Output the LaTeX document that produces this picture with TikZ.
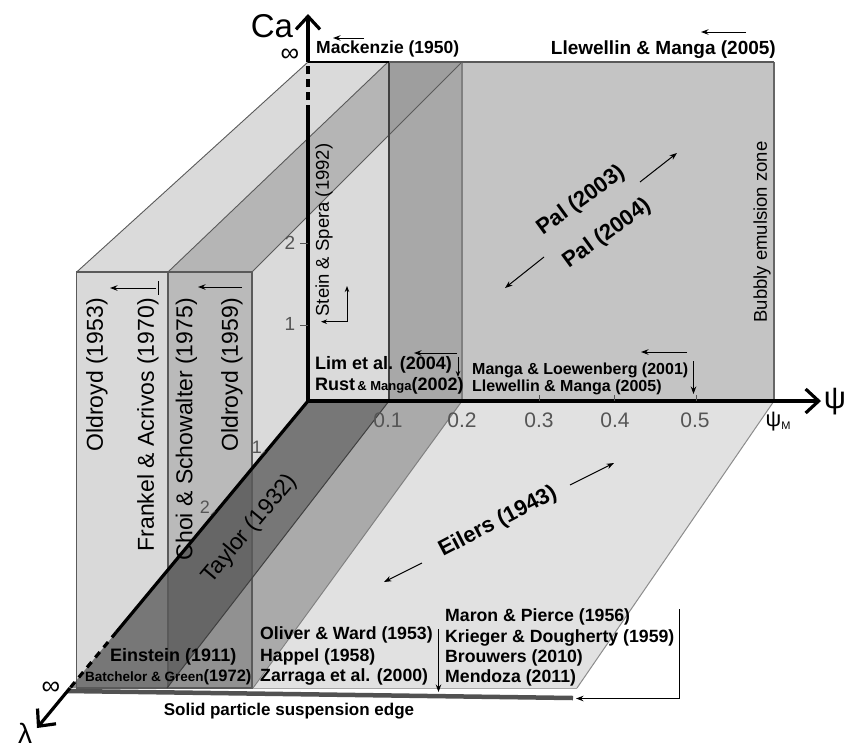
\documentclass[tikz,border=0pt]{standalone}
\usepackage{fontspec}
\setmainfont{Liberation Sans}
\usetikzlibrary{arrows.meta}
\newcommand{\fsz}[1]{\fontsize{#1}{#1}\selectfont}
\definecolor{cmed}{HTML}{C4C4C4}
\definecolor{clight}{HTML}{DADADA}
\definecolor{cstrip}{HTML}{A8A8A8}
\definecolor{ctoptwo}{HTML}{B5B5B5}
\definecolor{ctoptwod}{HTML}{9E9E9E}
\definecolor{cfloor}{HTML}{E1E1E1}
\definecolor{cslabone}{HTML}{D9D9D9}
\definecolor{cslabtwo}{HTML}{BABABA}
\definecolor{cline}{HTML}{5A5A5A}
\definecolor{ctick}{HTML}{555555}
\begin{document}
\begin{tikzpicture}[x=1pt,y=-1pt,
  bl/.style={font=\bfseries\fsz{17.7}, inner sep=0pt, anchor=west},
  vt/.style={font=\fsz{23}, inner sep=0pt, rotate=90, anchor=east},
  ar/.style={-{Stealth[length=7.5pt,width=5.5pt]}, line width=1pt},
  axisline/.style={line width=3.2pt},
  axisarrow/.style={line width=3.2pt, -{Straight Barb[length=13pt,width=24pt]}},
  ticklab/.style={font=\fsz{21}, text=ctick, inner sep=0pt},
  edgeln/.style={draw=cline, line width=1.1pt},
]
\useasboundingbox (0,0) rectangle (854,748);

% ---------- key points ----------
\coordinate (O) at (308,401);
\coordinate (CaInf) at (308,62);
\coordinate (CaDash) at (308,113);
\coordinate (CaTip) at (308,14);
\coordinate (PsiM) at (774,401);
\coordinate (PsiTip) at (821,401);
\coordinate (LamDash) at (116.4,632);
\coordinate (LamInf) at (70,688);
\coordinate (LamTip) at (37,728);

% ---------- faces ----------
\fill[cmed] (462,62) rectangle (774,401);
\fill[clight] (76.7,272) -- (308,62) -- (462,62) -- (462,401) -- (252,688) -- (76.7,688) -- cycle;
\fill[cstrip] (389,62) rectangle (462,401);
\fill[ctoptwo] (168,272) -- (252,272) -- (462,62) -- (388,62) -- cycle;
\begin{scope}
  \clip (389,62) rectangle (462,401);
  \fill[ctoptwod] (168,272) -- (252,272) -- (462,62) -- (388,62) -- cycle;
\end{scope}
\fill[cfloor] (462,401) -- (774,401) -- (577,688) -- (253,688) -- cycle;
\fill[cslabone] (76.7,272) rectangle (168,688);
\fill[cslabtwo] (168,272) rectangle (252,688);
\fill[black, fill opacity=0.45] (308,401) -- (389,401) -- (167,688) -- (70,688) -- cycle;
\fill[black, fill opacity=0.22] (389,401) -- (462,401) -- (253,688) -- (167,688) -- cycle;

% ---------- edges ----------
\draw[edgeln] (76.7,272) rectangle (252,688);
\draw[edgeln] (168,272) -- (168,688);
\draw[edgeln, line width=0.9pt] (76.7,272) -- (308,62);
\draw[edgeln, line width=0.9pt] (168,272) -- (388,62);
\draw[edgeln, line width=0.9pt] (252,272) -- (462,62);
\draw[draw=black!75, line width=1.5pt] (389,62) -- (389,401);
\draw[draw=black!50, line width=1.2pt] (462,62) -- (462,401);
\draw[draw=black!60, line width=1.8pt] (774,62) -- (774,401);
\draw[draw=black!65, line width=1.4pt] (389,62) -- (774,62);
\draw[draw=black, line width=1.6pt] (CaInf) -- (389,62);
\draw[draw=black!75, line width=1pt] (389,401) -- (167,688);
\draw[draw=black!50, line width=1pt] (462,401) -- (253,688);
\draw[draw=black!45, line width=1pt] (PsiM) -- (577,688);
\draw[draw=black!35, line width=0.8pt] (253,688) -- (577,688);
\draw[draw=black!68, line width=4.5pt] (67,691) -- (573,698);

% ---------- axes ----------
\draw[axisline] (O) -- (CaDash);
\draw[axisline, dash pattern=on 8pt off 5pt] (CaDash) -- (CaInf);
\draw[axisarrow] (CaInf) -- (CaTip);
\draw[axisarrow] (O) -- (PsiTip);
\draw[axisline] (O) -- (LamDash);
\draw[axisline, dash pattern=on 7pt off 6pt] (LamDash) -- (LamInf);
\draw[axisarrow] (LamInf) -- (LamTip);

\node[font=\fsz{33}, inner sep=0pt] (calab) at (272,26) {Ca};
\node[font=\fsz{31}, inner sep=0pt] (psilab) at (835,402) {ψ};
\node[font=\fsz{28}, inner sep=0pt] (lamlab) at (25,733) {λ};
\node[font=\fsz{26}, inner sep=0pt] (infca) at (290,55) {∞};
\node[font=\fsz{26}, inner sep=0pt] (inflam) at (51,688) {∞};
\node[inner sep=0pt] (psim) at (778,422) {{\fsz{22}ψ}{\fsz{11}\raisebox{-3pt}{M}}};

% ticks
\draw[ctick, line width=0.8pt] (300,325) -- (308,325);
\draw[ctick, line width=0.8pt] (300,243) -- (308,243);
\node[ticklab, font=\fsz{19}] (ca1) at (290,324) {1};
\node[ticklab, font=\fsz{19}] (ca2) at (290,243) {2};
\draw[ctick, line width=0.8pt] (539,395) -- (539,401);
\draw[ctick, line width=0.8pt] (614,395) -- (614,401);
\draw[ctick, line width=0.8pt] (696,395) -- (696,401);
\node[ticklab] (p1) at (388,420) {0.1};
\node[ticklab] (p2) at (462,420) {0.2};
\node[ticklab] (p3) at (539,420) {0.3};
\node[ticklab] (p4) at (615,420) {0.4};
\node[ticklab] (p5) at (695,420) {0.5};
\draw[ctick, line width=0.8pt] (261,455) -- (265,451);
\draw[ctick, line width=0.8pt] (211,515) -- (215,511);
\node[ticklab, font=\fsz{18}] (l1) at (257,447) {1};
\node[ticklab, font=\fsz{18}] (l2) at (205,507) {2};

% ---------- labels on the back plane ----------
\node[bl, font=\bfseries\fsz{17.5}] (mack) at (316,49) {Mackenzie (1950)};
\coordinate (mackA) at (364,38); \coordinate (mackB) at (333,38);
\draw[ar] (mackA) -- (mackB);
\node[bl, font=\bfseries\fsz{19}, anchor=east] (llewtop) at (776,50) {Llewellin \& Manga (2005)};
\coordinate (llA) at (746,32); \coordinate (llB) at (701,32);
\draw[ar] (llA) -- (llB);

\node[font=\fsz{18.5}, inner sep=0pt, rotate=90] (stein) at (324,230) {Stein \& Spera (1992)};
\coordinate (stC) at (347,321.7); \coordinate (stU) at (347,286); \coordinate (stL) at (321,321.7);
\draw[ar, -{Stealth[length=6pt,width=4.5pt]}] (stC) -- (stU);
\draw[ar, -{Stealth[length=6pt,width=4.5pt]}] (stC) -- (stL);

\node[font=\fsz{18.5}, inner sep=0pt, rotate=90] (bubbly) at (762,232) {Bubbly emulsion zone};

\node[font=\bfseries\fsz{22}, inner sep=0pt, rotate=36] (pal3) at (581,201) {Pal (2003)};
\node[font=\bfseries\fsz{22}, inner sep=0pt, rotate=36] (pal4) at (607,234) {Pal (2004)};
\coordinate (palA) at (640,182); \coordinate (palB) at (677,153);
\coordinate (palC) at (544,257); \coordinate (palD) at (505,288);
\draw[ar] (palA) -- (palB);
\draw[ar] (palC) -- (palD);

\node[bl, font=\bfseries\fsz{18}] (lim) at (315,365) {Lim et al. (2004)};
\node[bl, font=\bfseries\fsz{18}] (rust) at (315,386) {Rust{\fsz{13}\,\& Manga}(2002)};
\coordinate (limA) at (457,353); \coordinate (limB) at (414,353);
\draw[ar] (limA) -- (limB);
\coordinate (limC) at (458,357); \coordinate (limD) at (458,377);
\draw[ar, -{Stealth[length=6pt,width=4.5pt]}] (limC) -- (limD);

\node[bl, font=\bfseries\fsz{16}] (mlo) at (472,370) {Manga \& Loewenberg (2001)};
\node[bl, font=\bfseries\fsz{16}] (llew2) at (472,387) {Llewellin \& Manga (2005)};
\coordinate (mlA) at (687,352); \coordinate (mlB) at (641,352);
\draw[ar] (mlA) -- (mlB);
\coordinate (mlC) at (693.5,361); \coordinate (mlD) at (693.5,394);
\draw[ar] (mlC) -- (mlD);

% ---------- slabs ----------
\node[vt] (old53) at (97,298) {Oldroyd (1953)};
\node[vt] (frank) at (148,298) {Frankel \& Acrivos (1970)};
\node[vt] (choi) at (186.5,298) {Choi \& Schowalter (1975)};
\node[vt] (old59) at (232,298) {Oldroyd (1959)};
\coordinate (s1A) at (156,288); \coordinate (s1B) at (110,288);
\draw[ar] (s1A) -- (s1B);
\draw[line width=0.9pt] (158,281) -- (158,295);
\coordinate (s2A) at (242,287); \coordinate (s2B) at (198,287);
\draw[ar] (s2A) -- (s2B);

\node[font=\fsz{23}, inner sep=0pt, rotate=50] (taylor) at (250,529) {Taylor (1932)};

% ---------- floor ----------
\node[font=\bfseries\fsz{22}, inner sep=0pt, rotate=27.5] (eilers) at (498,522) {Eilers (1943)};
\coordinate (eA) at (570,485); \coordinate (eB) at (614,463);
\coordinate (eC) at (422,563); \coordinate (eD) at (384,582);
\draw[ar] (eA) -- (eB);
\draw[ar] (eC) -- (eD);

\node[bl, font=\bfseries\fsz{18}] (einst) at (110,657) {Einstein (1911)};
\node[bl] (batch) at (85,677) {{\fsz{13.5}Batchelor \& Green}{\fsz{16.5}(1972)}};

\node[bl] (oliver) at (260,635) {Oliver \& Ward (1953)};
\node[bl] (happel) at (260,656.5) {Happel (1958)};
\node[bl] (zarr) at (260,677) {Zarraga et al. (2000)};
\coordinate (oA) at (438.5,629); \coordinate (oB) at (438.5,692);
\draw[ar] (oA) -- (oB);

\node[bl] (maron) at (445,617) {Maron \& Pierce (1956)};
\node[bl] (krieg) at (445,637.5) {Krieger \& Dougherty (1959)};
\node[bl] (brou) at (445,658) {Brouwers (2010)};
\node[bl] (mend) at (445,678) {Mendoza (2011)};
\coordinate (mA) at (679.5,609); \coordinate (mB) at (679.5,698.5); \coordinate (mC) at (576,698.5);
\draw[ar] (mA) -- (mB) -- (mC);

\node[font=\bfseries\fsz{17}, inner sep=0pt] (solid) at (289,711) {Solid particle suspension edge};
\end{tikzpicture}
\end{document}
